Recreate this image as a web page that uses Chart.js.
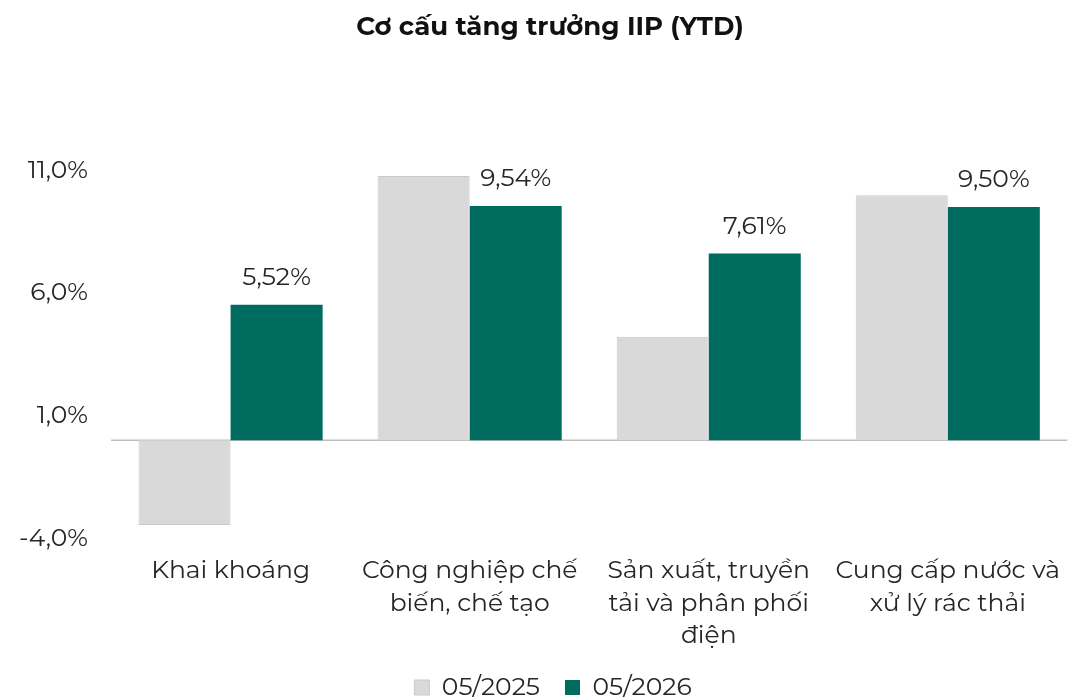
<!DOCTYPE html>
<html>
<head>
<meta charset="utf-8">
<script src="https://cdn.jsdelivr.net/npm/chart.js@4/dist/chart.umd.min.js"></script>
<style>
  html, body { margin: 0; padding: 0; background: #fff; }
  #wrap { width: 1068px; height: 699px; position: relative; }
</style>
</head>
<body>
<div id="wrap"><canvas id="chart"></canvas></div>
<script>
"use strict";

const CATEGORIES = [
  ["Khai khoáng"],
  ["Công nghiệp chế", "biến, chế tạo"],
  ["Sản xuất, truyền", "tải và phân phối", "điện"],
  ["Cung cấp nước và", "xử lý rác thải"],
];
const SERIES_2025 = [-3.45, 10.76, 4.22, 9.98];
const SERIES_2026 = [5.52, 9.54, 7.61, 9.50];
const Y_TICKS = [-4, 1, 6, 11];

const FONT = "Montserrat, Inter, 'Open Sans', sans-serif";
const GREEN = "#006b5f";
const GRAY = "#d9d9d9";

function pct(v) {
  return v.toFixed(1).replace(".", ",") + "%";
}

function shiftBox(box, dx, dy) {
  const draw = box.draw;
  box.draw = function (area) {
    const ctx = this.ctx;
    ctx.save();
    ctx.translate(dx, dy);
    draw.call(this, area);
    ctx.restore();
  };
}

// title and legend sit a bit right of centre and the legend hugs the bottom edge
const boxTweaks = {
  id: "boxTweaks",
  beforeInit(chart) {
    const legend = chart.legend;
    if (legend) {
      const fit = legend.fit;
      legend.fit = function () {
        fit.call(this);
        this.height -= 7;
      };
      shiftBox(legend, 19, 4);
    }
    if (chart.titleBlock) shiftBox(chart.titleBlock, 16, 0);
  },
};

const zeroLine = {
  id: "zeroLine",
  beforeDatasetsDraw(chart) {
    const { ctx, chartArea, scales } = chart;
    const y = scales.y.getPixelForValue(0);
    ctx.save();
    ctx.strokeStyle = "#bfbfbf";
    ctx.lineWidth = 1.5;
    ctx.beginPath();
    ctx.moveTo(chartArea.left, y);
    ctx.lineTo(chartArea.right, y);
    ctx.stroke();
    ctx.restore();
  },
};

const valueLabels = {
  id: "valueLabels",
  afterDatasetsDraw(chart) {
    const { ctx } = chart;
    const meta = chart.getDatasetMeta(1);
    ctx.save();
    ctx.font = "25px " + FONT;
    ctx.fillStyle = "#262626";
    ctx.textAlign = "center";
    ctx.textBaseline = "middle";
    meta.data.forEach((bar, i) => {
      const v = SERIES_2026[i];
      ctx.fillText(v.toFixed(2).replace(".", ",") + "%", bar.x, bar.y - 27);
    });
    ctx.restore();
  },
};

new Chart(document.getElementById("chart"), {
  type: "bar",
  data: {
    labels: CATEGORIES,
    datasets: [
      {
        label: "05/2025",
        data: SERIES_2025,
        backgroundColor: GRAY,
        borderColor: "#c9c9c9",
        borderWidth: 1,
        barPercentage: 1.0,
        categoryPercentage: 0.77,
      },
      {
        label: "05/2026",
        data: SERIES_2026,
        backgroundColor: GREEN,
        borderWidth: 0,
        barPercentage: 1.0,
        categoryPercentage: 0.77,
      },
    ],
  },
  options: {
    responsive: true,
    maintainAspectRatio: false,
    animation: false,
    layout: { padding: { left: 0, right: 0, top: 0, bottom: 0 } },
    plugins: {
      title: {
        display: true,
        text: "Cơ cấu tăng trưởng IIP (YTD)",
        color: "#111",
        font: { family: FONT, size: 26, weight: "bold" },
        padding: { top: 12, bottom: 127 },
      },
      legend: {
        position: "bottom",
        labels: {
          color: "#262626",
          font: { family: FONT, size: 25 },
          boxWidth: 15,
          boxHeight: 15,
          padding: 25,
          useBorderRadius: false,
        },
      },
      tooltip: { enabled: false },
    },
    scales: {
      x: {
        grid: { display: false },
        border: { display: false },
        afterFit: (scale) => {
          scale.height -= 14;
          // labels may run a few px past the shortened axis box
          scale._computeLabelArea = () => undefined;
        },
        ticks: {
          color: "#262626",
          font: { family: FONT, size: 25, lineHeight: 1.3 },
          maxRotation: 0,
          padding: 8,
        },
      },
      y: {
        min: -4,
        max: 11,
        grid: { display: false },
        border: { display: false },
        afterBuildTicks: (scale) => {
          scale.ticks = Y_TICKS.map((v) => ({ value: v }));
        },
        afterFit: (scale) => { scale.width += 4; },
        ticks: {
          color: "#262626",
          font: { family: FONT, size: 25 },
          padding: 15,
          callback: (v) => pct(v),
        },
      },
    },
  },
  plugins: [boxTweaks, zeroLine, valueLabels],
});
</script>
</body>
</html>
